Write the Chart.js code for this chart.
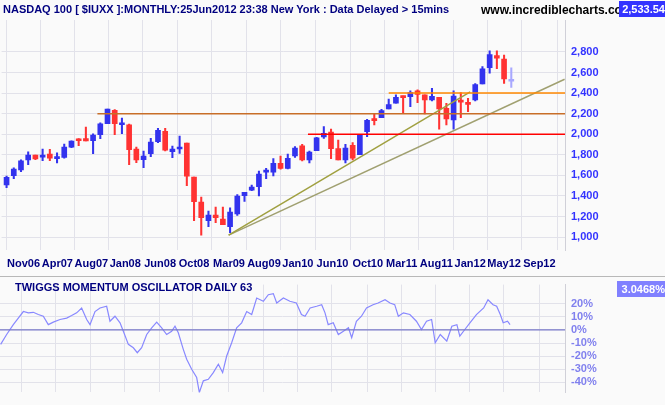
<!DOCTYPE html>
<html>
<head>
<meta charset="utf-8">
<script src="https://cdn.jsdelivr.net/npm/chart.js@4"></script>
<style>
  body { margin: 0; background: #fafafa; font-family: Arial, "Liberation Sans", sans-serif; }
  #wrap { position: relative; width: 665px; height: 405px; overflow: hidden; }
  .txt { position: absolute; font-weight: bold; font-size: 11px; white-space: nowrap; }
  #main { position: absolute; left: 0; top: 0; }
  #osc { position: absolute; left: 0; top: 272px; }
  #sep { position: absolute; left: 0; top: 276px; width: 665px; height: 1px; background: #b8b8b8; }
</style>
</head>
<body>
<div id="wrap">
  <canvas id="main" width="665" height="272"></canvas>
  <div id="sep"></div>
  <canvas id="osc" width="665" height="133"></canvas>
  <div class="txt" style="left:3px;top:3px;color:#000080;">NASDAQ 100 [ $IUXX ]:MONTHLY:25Jun2012 23:38 New York : Data Delayed &gt; 15mins</div>
  <div class="txt" style="left:481px;top:3px;color:#000;font-size:12px;">www.incrediblecharts.com</div>
  <div class="txt" style="left:619px;top:1px;width:46px;height:16px;line-height:16px;background:#3333ff;color:#fff;text-align:right;padding-right:1px;">2,533.54</div>
  <div class="txt" style="left:15px;top:281px;color:#000080;font-size:11px;">TWIGGS MOMENTUM OSCILLATOR DAILY 63</div>
  <div class="txt" style="left:617px;top:281px;width:48px;height:16px;line-height:16px;background:#8080ff;color:#fff;text-align:right;">3.0468%</div>
</div>
<script>
// Mois : Aug06 ... Jun12 (index 0 = Aug06)
const opens  = [1506,1597,1652,1749,1798,1778,1807,1762,1775,1875,1950,1957,1937,1995,2102,2232,2092,2092,1856,1752,1811,1927,2028,1830,1856,1914,1584,1340,1159,1214,1175,1100,1224,1402,1457,1490,1632,1630,1717,1668,1788,1886,1750,1840,1973,2022,1860,1750,1892,1801,2025,2148,2161,2246,2301,2372,2366,2421,2382,2333,2359,2252,2138,2317,2307,2333,2489,2648,2764,2732,2515];
const highs  = [1593,1674,1752,1830,1798,1856,1853,1820,1905,1937,1957,2070,2005,2112,2245,2239,2158,2099,1875,1837,1960,2057,2057,1885,1982,1914,1584,1389,1253,1292,1292,1285,1412,1435,1506,1642,1668,1762,1788,1808,1879,1902,1837,1970,2074,2051,1944,1902,1918,2000,2145,2204,2242,2343,2382,2372,2421,2431,2382,2447,2359,2301,2421,2405,2349,2492,2658,2810,2810,2771,2645];
const lows   = [1480,1567,1635,1704,1752,1742,1742,1720,1768,1869,1888,1934,1811,1957,2102,1995,2005,1704,1723,1674,1781,1918,1837,1772,1814,1499,1159,1019,1100,1139,1120,1042,1211,1347,1450,1399,1567,1594,1659,1662,1775,1740,1720,1840,1960,1762,1750,1720,1750,1801,1976,2090,2161,2246,2301,2207,2268,2307,2197,2323,2048,2090,2048,2161,2220,2323,2489,2593,2638,2495,2456];
const closes = [1580,1661,1742,1798,1759,1798,1768,1778,1875,1934,1937,1934,1992,2102,2245,2102,2095,1850,1749,1788,1924,2038,1846,1856,1875,1593,1344,1188,1214,1188,1120,1243,1399,1435,1486,1613,1635,1717,1668,1766,1866,1750,1827,1964,2009,1860,1750,1866,1766,2000,2135,2132,2229,2288,2359,2356,2405,2388,2333,2369,2246,2148,2372,2313,2291,2482,2635,2774,2739,2538,2533];

// Etiquettes de l'axe des temps (positions en mois depuis Aug06)
const tickPos    = [2.35,7.05,11.76,16.46,21.3,26.0,30.85,35.7,40.4,45.2,50.1,54.8,59.6,64.3,69.0,73.9];
const tickLabels = ['Nov06','Apr07','Aug07','Jan08','Jun08','Oct08','Mar09','Aug09','Jan10','Jun10','Oct10','Mar11','Aug11','Jan12','May12','Sep12'];
const priceTicks = [1000,1200,1400,1600,1800,2000,2200,2400,2600,2800];
const oscTicks   = [20,10,0,-10,-20,-30,-40];

// Supports / résistances et lignes de tendance
const hLines = [
  { y: 2200, from: 12.6, color: '#c86e28' },
  { y: 2400, from: 53.0, color: '#ff8800' },
  { y: 2000, from: 41.8, color: '#ff0000' }
];
const trendUpper = [{ x: 30.8, y: 1019 }, { x: 64.3, y: 2411 }];
const trendLower = [{ x: 30.8, y: 1019 }, { x: 77.4, y: 2535 }];

// Oscillateur de momentum (x en mois)
const oscX = [-0.6,0.23,1.15,1.84,2.54,3.23,3.92,4.61,5.30,5.99,6.68,7.61,8.53,9.22,9.91,10.6,11.3,11.76,12.45,13.14,14.06,14.52,15.21,15.91,16.37,17.06,17.75,18.3,18.9,19.6,20.29,20.98,21.67,22.36,23.05,23.51,23.97,24.66,25.13,25.82,26.51,26.88,27.43,28.12,28.81,29.51,30.1,30.66,31.35,32.04,32.73,33.43,34.12,34.81,35.73,36.42,37.11,
  37.58,38.5,39.4,40.3,41.0,41.5,42.2,43.1,43.8,44.26,44.7,45.4,46.1,46.8,47.5,47.95,48.6,49.3,50.0,50.9,51.6,52.56,53.25,53.9,54.4,55.1,56.0,56.9,57.6,58.3,59.0,59.5,60.2,61.1,61.8,62.5,62.9,63.6,64.3,65.2,66.2,66.8,67.5,68.0,68.5,68.9,69.5,69.85];
const oscY = [-11,-3.5,4,9,14,13,13.4,11.7,10.4,4,5.9,7.9,9,10.9,13,16.7,7.9,4,14,16.7,18,6.6,10.4,5.4,-1,-11,-13.6,-17.4,-13.6,-3.5,1.6,5.9,1.6,-3.5,-1,2.8,-2.2,-14.8,-22.4,-30,-36.3,-47.7,-38.8,-37.6,-32.5,-26.2,-32.5,-19.9,-9.8,1.6,5.4,14,11.7,24.3,21.8,26.8,27.6,
  20.5,24.3,21.8,20.5,11.7,10.4,16.7,18,19.2,13,4,5.4,-3.5,-1,1.6,-6,6.6,10.4,16.7,19.2,20.5,23,20.5,19.2,10.4,13,11.7,6.6,0.3,6.6,7.9,-9.8,-3.5,-8.5,2.8,4,-4.7,0.3,5.4,11.7,16.7,23,19.2,18,11.7,5.4,6.6,4];

const X_MIN = -0.69, X_MAX = 77.45;
const gridColor = '#e2e2ea';
const axisFont = { family: 'Arial', size: 11, weight: 'bold' };

const last = closes.length - 1;
const candleColors = closes.map((c, i) => i === last ? '#a8a8ff' : (c >= opens[i] ? '#3333ee' : '#ff3333'));

function fixedTicks(values) {
  return function (scale) { scale.ticks = values.map(v => ({ value: v })); };
}

new Chart(document.getElementById('main'), {
  data: {
    datasets: [
      ...hLines.map(h => ({
        type: 'line', data: [{ x: h.from, y: h.y }, { x: X_MAX, y: h.y }],
        borderColor: h.color, borderWidth: 1.5, pointRadius: 0
      })),
      { type: 'line', data: trendUpper, borderColor: '#a0a040', borderWidth: 1.5, pointRadius: 0 },
      { type: 'line', data: trendLower, borderColor: '#a0a070', borderWidth: 1.5, pointRadius: 0 },
      {
        type: 'bar', grouped: false,
        data: lows.map((l, i) => ({ x: i, y: [l, highs[i]] })),
        backgroundColor: candleColors, barThickness: 1.4
      },
      {
        type: 'bar', grouped: false,
        data: opens.map((o, i) => ({ x: i, y: [o, closes[i]] })),
        backgroundColor: candleColors, barThickness: 5, minBarLength: 2
      }
    ]
  },
  options: {
    responsive: false, animation: false,
    layout: { padding: { top: 20 } },
    plugins: { legend: { display: false }, tooltip: { enabled: false } },
    scales: {
      x: {
        type: 'linear', min: X_MIN, max: X_MAX, offset: false,
        afterBuildTicks: fixedTicks(tickPos),
        afterFit: s => { s.height = 22; },
        grid: { color: gridColor, drawTicks: false },
        border: { display: false },
        ticks: { color: '#000080', font: axisFont, padding: 7, maxRotation: 0, autoSkip: false,
          callback: (v, i) => tickLabels[i] }
      },
      y: {
        position: 'right', min: 874, max: 3111,
        afterBuildTicks: fixedTicks(priceTicks),
        afterFit: s => { s.width = 100; },
        grid: { color: gridColor, drawTicks: false },
        border: { color: '#d0d0d8' },
        ticks: { color: '#3333ff', font: axisFont, padding: 6,
          callback: v => v.toLocaleString('en-US') }
      }
    }
  }
});

new Chart(document.getElementById('osc'), {
  type: 'line',
  data: {
    datasets: [
      { data: [{ x: X_MIN, y: 0 }, { x: X_MAX, y: 0 }], borderColor: '#7878c8', borderWidth: 1.2, pointRadius: 0 },
      { data: oscX.map((x, i) => ({ x, y: oscY[i] })), borderColor: '#8888ff', borderWidth: 1.2, pointRadius: 0 }
    ]
  },
  options: {
    responsive: false, animation: false,
    layout: { padding: { top: 7 } },
    plugins: { legend: { display: false }, tooltip: { enabled: false } },
    scales: {
      x: {
        type: 'linear', min: X_MIN, max: X_MAX,
        afterBuildTicks: fixedTicks(tickPos),
        afterFit: s => { s.height = 7; },
        grid: { color: gridColor, drawTicks: false },
        border: { display: false },
        ticks: { display: false }
      },
      y: {
        position: 'right', min: -47.6, max: 34.5,
        afterBuildTicks: fixedTicks(oscTicks),
        afterFit: s => { s.width = 100; },
        grid: { color: gridColor, drawTicks: false },
        border: { color: '#d0d0d8' },
        ticks: { color: '#8080ee', font: axisFont, padding: 6, callback: v => v + '%' }
      }
    }
  }
});
</script>
</body>
</html>
